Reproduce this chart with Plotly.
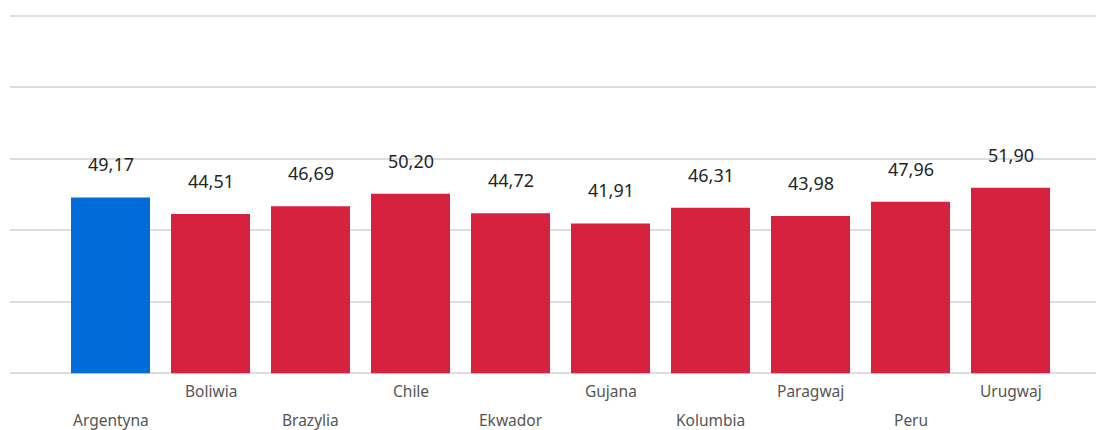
import plotly.graph_objects as go

countries = ["Argentyna", "Boliwia", "Brazylia", "Chile", "Ekwador", "Gujana",
             "Kolumbia", "Paragwaj", "Peru", "Urugwaj"]
values = [49.17, 44.51, 46.69, 50.20, 44.72, 41.91, 46.31, 43.98, 47.96, 51.90]
y_ticks = [0, 20, 40, 60, 80, 100]

colors = ["#006BD9" if c == "Argentyna" else "#D6223F" for c in countries]

fig = go.Figure(go.Bar(
    x=countries, y=values, marker=dict(color=colors, line=dict(width=0)),
    width=0.79, hoverinfo="skip",
))

annotations = []
for i, (c, v) in enumerate(zip(countries, values)):
    annotations.append(dict(
        x=c, y=v, xref="x", yref="y", text=f"{v:.2f}".replace(".", ","),
        showarrow=False, yshift=33, yanchor="middle",
        font=dict(family="Noto Sans", size=18, color="#252525"),
    ))
    annotations.append(dict(
        x=c, y=0, xref="x", yref="y", text=c, showarrow=False,
        yanchor="middle", yshift=-18 if i % 2 else -46.5,
        font=dict(family="Noto Sans", size=15.5, color="#555555"),
    ))

fig.update_layout(
    width=1096, height=430,
    margin=dict(l=10, r=0, t=14, b=55),
    paper_bgcolor="white", plot_bgcolor="white",
    showlegend=False,
    annotations=annotations,
    xaxis=dict(range=[-1.005, 9.855], showticklabels=False, showgrid=False,
               zeroline=False, showline=False, ticks=""),
    yaxis=dict(range=[-0.5, 100.5], tickvals=y_ticks, showticklabels=False,
               showgrid=True, gridcolor="#dedede", gridwidth=1.5,
               zeroline=False, showline=False, ticks=""),
)

fig.write_html("out.html", config={"displayModeBar": False},
               post_script="document.body.style.margin='0';")
